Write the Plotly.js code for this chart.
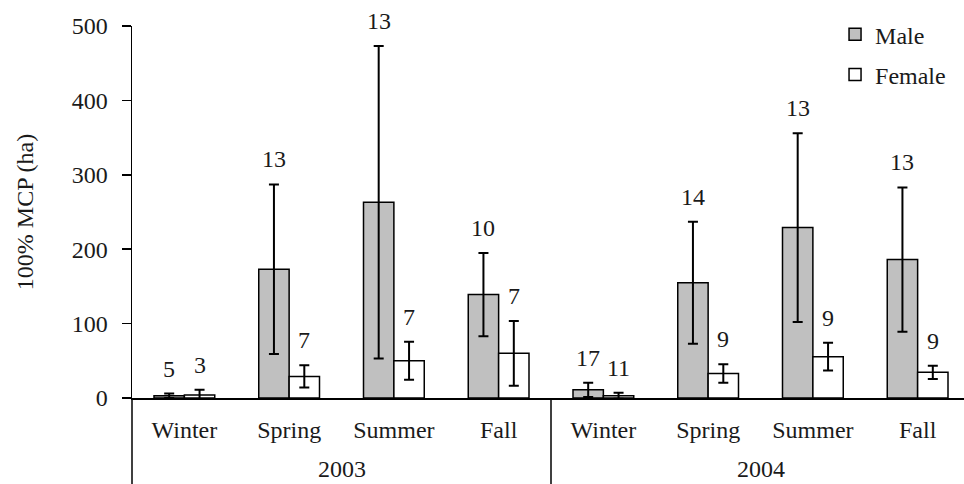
<!DOCTYPE html>
<html>
<head>
<meta charset="utf-8">
<script src="https://cdn.plot.ly/plotly-3.0.1.min.js"></script>
<style>html,body{margin:0;padding:0;background:#fff;}#chart{width:964px;height:484px;}</style>
</head>
<body>
<div id="chart"></div>
<script>
var years = ["2003","2003","2003","2003","2004","2004","2004","2004"];
var seasons = ["Winter","Spring","Summer","Fall","Winter","Spring","Summer","Fall"];
var maleMean = [3, 173, 263, 139, 11, 155, 229, 186];
var maleSE = [3, 114, 210, 56, 9.5, 82, 127, 97];
var femaleMean = [4, 29, 50, 60, 3, 33, 55.5, 34.5];
var femaleSE = [7, 15, 25.5, 43.5, 4, 12.5, 18.6, 9];
var maleN = [5, 13, 13, 10, 17, 14, 13, 13];
var femaleN = [3, 7, 7, 7, 11, 9, 9, 9];
var yTicks = [0, 100, 200, 300, 400, 500];

var FONT = "Liberation Serif, Times New Roman, serif";
var TXT = "#1a1a1a";
var BARGAP = 0.42;

var xIdx = seasons.map(function (s, i) { return i; });

var traces = [
  {
    type: "bar", name: "Male", x: xIdx, y: maleMean,
    marker: {color: "#c0c0c0", line: {color: "#000", width: 1.5}},
    error_y: {type: "data", array: maleSE, visible: true, color: "#000", thickness: 2, width: 5},
    legendgroup: "m"
  },
  {
    type: "bar", name: "Female", x: xIdx, y: femaleMean,
    marker: {color: "#ffffff", line: {color: "#000", width: 1.5}},
    error_y: {type: "data", array: femaleSE, visible: true, color: "#000", thickness: 2, width: 5},
    legendgroup: "f"
  }
];

var plotW = 964 - 132;
var plotH = 484 - 26 - 86;
var catPx = 104.75;
var xMax = -0.5 + plotW / catPx;
var halfBar = catPx * (1 - BARGAP) / 4;

var annotations = [];
for (var i = 0; i < seasons.length; i++) {
  annotations.push({x: i, y: maleMean[i] + maleSE[i], xref: "x", yref: "y", text: String(maleN[i]),
    showarrow: false, xshift: -halfBar, yshift: 25, font: {family: FONT, size: 24, color: TXT}});
  annotations.push({x: i, y: femaleMean[i] + femaleSE[i], xref: "x", yref: "y", text: String(femaleN[i]),
    showarrow: false, xshift: halfBar, yshift: 25, font: {family: FONT, size: 24, color: TXT}});
}

// year group labels and dividers, positioned on the x scale
var shapes = [];
var groups = [];
years.forEach(function (yr, i) {
  if (!groups.length || groups[groups.length - 1].name !== yr) groups.push({name: yr, start: i, end: i});
  else groups[groups.length - 1].end = i;
});
var belowY = -86 / plotH;
groups.forEach(function (g, k) {
  annotations.push({x: (g.start + g.end) / 2, y: -85 / plotH, xref: "x", yref: "paper", yanchor: "bottom",
    text: g.name, showarrow: false, borderpad: 0, font: {family: FONT, size: 24, color: TXT}});
  if (k > 0) {
    shapes.push({type: "line", xref: "x", yref: "paper", x0: g.start - 0.5, x1: g.start - 0.5, y0: 0, y1: belowY,
      line: {color: "#000", width: 1.5}});
  }
});
shapes.push({type: "line", xref: "paper", yref: "paper", x0: 0, x1: 0, y0: 0, y1: belowY,
  line: {color: "#000", width: 1.5}});

var layout = {
  width: 964, height: 484,
  margin: {l: 132, r: 0, t: 26, b: 86},
  paper_bgcolor: "#fff", plot_bgcolor: "#fff",
  font: {family: FONT, size: 24, color: TXT},
  barmode: "group", bargap: BARGAP, bargroupgap: 0,
  showlegend: true,
  legend: {x: 0.845, xanchor: "left", y: 1.037, yanchor: "top", bgcolor: "rgba(0,0,0,0)",
    font: {family: FONT, size: 24, color: TXT}, traceorder: "grouped", tracegroupgap: 6},
  xaxis: {
    type: "linear", range: [-0.5, xMax], tickvals: xIdx, ticktext: seasons,
    showline: true, linecolor: "#000", linewidth: 1.5,
    ticks: "", showgrid: false, zeroline: false, ticklabelstandoff: 10,
    tickfont: {family: FONT, size: 24, color: TXT}, automargin: false
  },
  yaxis: {
    range: [0, 500], tickvals: yTicks, ticktext: yTicks.map(String), showline: true, linecolor: "#000", linewidth: 1.5,
    ticks: "outside", ticklen: 9, tickwidth: 1.5, tickcolor: "#000", showgrid: false, zeroline: false,
    ticklabelstandoff: 9, automargin: false,
    tickfont: {family: FONT, size: 24, color: TXT},
    title: {text: "100% MCP (ha)", standoff: 31, font: {family: FONT, size: 24, color: TXT}}
  },
  annotations: annotations,
  shapes: shapes
};

Plotly.newPlot("chart", traces, layout, {staticPlot: true, displayModeBar: false});
</script>
</body>
</html>
